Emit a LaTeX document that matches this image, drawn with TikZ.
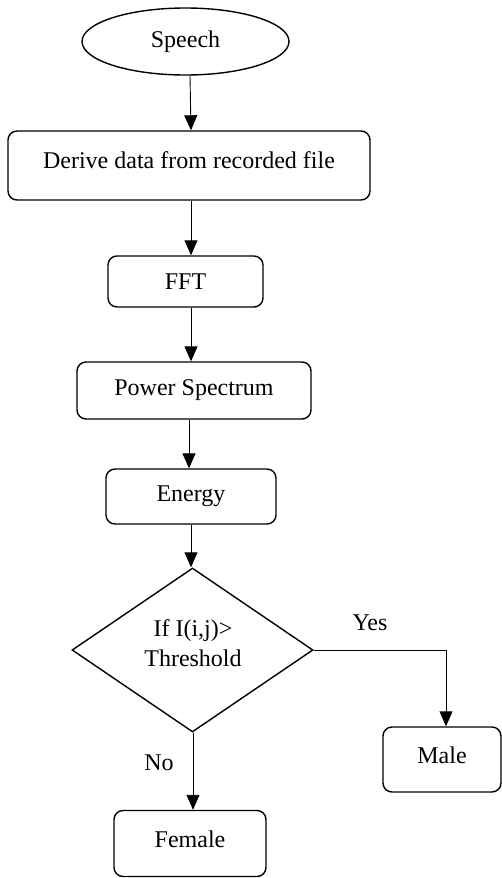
\documentclass[tikz,border=0pt]{standalone}
\usepackage{fontspec}
\setmainfont{Liberation Serif}
\usetikzlibrary{arrows.meta,shapes.geometric}
\begin{document}
\begin{tikzpicture}[x=1pt,y=-1pt,
  txt/.style={font=\fontsize{24}{30}\selectfont},
  box/.style={draw,line width=1.4pt,rounded corners=9pt,inner sep=0pt,txt},
  arr/.style={-{Triangle[width=13pt,length=15pt]},line width=0.9pt},
  lbl/.style={txt,inner sep=0pt}]
\useasboundingbox (0,0) rectangle (502,878);
\node[draw,line width=1.4pt,ellipse,inner sep=0pt,txt,minimum width=207pt,minimum height=67pt] (speech) at (185.5,41.5) {Speech};
\node[box,minimum width=362pt,minimum height=69pt] (derive) at (189,165.5) {\raisebox{10pt}{Derive data from recorded file}};
\node[box,minimum width=155pt,minimum height=51pt] (fft) at (185.5,281.5) {FFT};
\node[box,minimum width=234pt,minimum height=57pt] (power) at (194,390.5) {Power Spectrum};
\node[box,minimum width=170pt,minimum height=55pt] (energy) at (191,496.5) {Energy};
\node[draw,diamond,line width=1.4pt,inner sep=0pt,minimum width=241pt,minimum height=164pt] (dec) at (192.5,650) {};
\node[lbl,align=center] (dtext) at (193,643) {If I(i,j)>\\Threshold};
\node[box,minimum width=118pt,minimum height=65pt] (male) at (442,759.5) {\raisebox{9pt}{Male}};
\node[box,minimum width=152pt,minimum height=66pt] (female) at (190,843.5) {\raisebox{9pt}{Female}};
\node[lbl] (yes) at (370,623) {Yes};
\node[lbl] (no) at (159,763) {No};
\draw[arr] (speech.south -| 190,0) -- (derive.north -| 191,0);
\draw[arr] (derive.south -| 191,0) -- (fft.north -| 191,0);
\draw[arr] (fft.south -| 191,0) -- (power.north -| 191,0);
\draw[arr] (power.south -| 189,0) -- (energy.north -| 189,0);
\draw[arr] (energy.south -| 191,0) -- (dec.north -| 191,0);
\draw[arr] (dec.east) -| (male.north -| 446,0);
\draw[arr] (dec.south -| 193,0) -- (female.north -| 193,0);
\end{tikzpicture}
\end{document}
